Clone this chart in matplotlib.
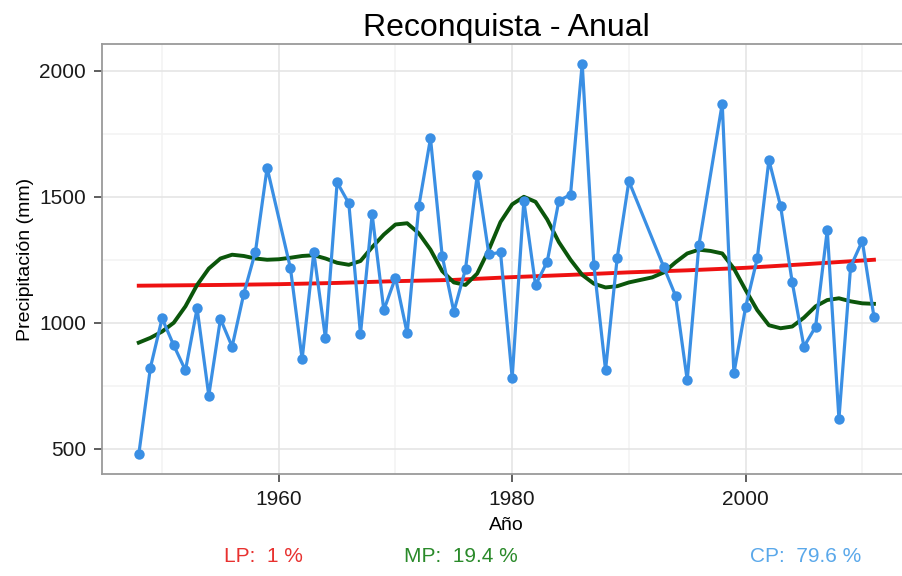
import numpy as np
import matplotlib.pyplot as plt
from matplotlib.ticker import MultipleLocator, FixedLocator

plt.rcParams['font.family'] = ['Liberation Sans', 'DejaVu Sans']

# precipitacion anual observada (mm); faltan 1960, 1991, 1992 y 1997
anios = [1948, 1949, 1950, 1951, 1952, 1953, 1954, 1955, 1956, 1957, 1958, 1959,
         1961, 1962, 1963, 1964, 1965, 1966, 1967, 1968, 1969, 1970, 1971, 1972,
         1973, 1974, 1975, 1976, 1977, 1978, 1979, 1980, 1981, 1982, 1983, 1984,
         1985, 1986, 1987, 1988, 1989, 1990, 1993, 1994, 1995, 1996, 1998, 1999,
         2000, 2001, 2002, 2003, 2004, 2005, 2006, 2007, 2008, 2009, 2010, 2011]
precip = [477, 822, 1017, 910, 811, 1057, 711, 1015, 905, 1115, 1282, 1615,
          1216, 855, 1279, 938, 1557, 1474, 955, 1430, 1050, 1179, 958, 1463,
          1732, 1266, 1044, 1213, 1585, 1272, 1279, 781, 1484, 1149, 1242, 1484,
          1509, 2029, 1229, 812, 1258, 1562, 1220, 1107, 772, 1308, 1870, 799,
          1061, 1255, 1646, 1463, 1160, 905, 984, 1368, 618, 1222, 1325, 1024]

# componente de largo periodo (LP)
lp_anios = [1948, 1955, 1960, 1965, 1970, 1975, 1980, 1985, 1990, 1995, 2000, 2005, 2011]
lp_vals = [1147, 1150, 1153, 1158, 1165, 1170, 1181, 1190, 1200, 1208, 1218, 1232, 1250]

# componente de mediano periodo (MP)
mp_anios = list(range(1948, 2012))
mp_vals = [921, 940, 965, 1000, 1065, 1150, 1215, 1255, 1270, 1265, 1255, 1250,
           1252, 1258, 1265, 1268, 1255, 1238, 1230, 1245, 1300, 1350, 1390, 1395,
           1355, 1290, 1205, 1160, 1150, 1195, 1290, 1400, 1470, 1500, 1480, 1410,
           1320, 1250, 1190, 1155, 1140, 1145, 1160, 1170, 1180, 1200, 1240, 1275,
           1290, 1285, 1275, 1215, 1130, 1050, 990, 978, 985, 1020, 1065, 1090,
           1097, 1085, 1077, 1075]

etiquetas = ['LP:  1 %', 'MP:  19.4 %', 'CP:  79.6 %']
col_etiq = ['#e8312f', '#2a8a2a', '#5aa8ea']

fig = plt.figure(figsize=(9.02, 5.76), dpi=100)
ax = fig.add_axes([102/902, 102/576, 808.7/902, 430/576])

ax.plot(lp_anios, lp_vals, color='#ee1111', lw=2.8, zorder=3)
ax.plot(mp_anios, mp_vals, color='#0b560b', lw=2.8, zorder=4)
ax.plot(anios, precip, color='#3a8fe4', lw=2.3, marker='o', ms=7.5,
        markeredgewidth=0, zorder=5)

# expansion estilo ggplot (5 %)
xr = max(anios) - min(anios)
yr = max(precip) - min(precip)
ax.set_xlim(min(anios) - 0.05*xr, max(anios) + 0.05*xr)
ax.set_ylim(min(precip) - 0.05*yr, max(precip) + 0.05*yr)

ax.xaxis.set_major_locator(FixedLocator([1960, 1980, 2000]))
ax.xaxis.set_minor_locator(FixedLocator([1950, 1970, 1990, 2010]))
ax.yaxis.set_major_locator(MultipleLocator(500))
ax.yaxis.set_minor_locator(FixedLocator([750, 1250, 1750]))

ax.grid(which='major', color='#e3e3e3', lw=1.1)
ax.grid(which='minor', color='#f3f3f3', lw=1.1)
ax.set_axisbelow(True)

for s in ax.spines.values():
    s.set_color('#9a9a9a')
    s.set_linewidth(1.3)

ax.tick_params(which='major', length=5.5, width=1.1, color='#333333',
               labelsize=15, labelcolor='#1a1a1a', pad=6)
ax.tick_params(which='minor', length=0)

ax.set_title('Reconquista - Anual', fontsize=23, pad=6)
ax.set_xlabel('Año', fontsize=14, labelpad=6)
ax.set_ylabel('Precipitación (mm)', fontsize=14, labelpad=4)

xs = [263, 461, 806]
for t, c, x in zip(etiquetas, col_etiq, xs):
    fig.text(x/902, 1 - 557/576, t, color=c, fontsize=15, ha='center', va='center')

fig.savefig('out.png', dpi=100)
